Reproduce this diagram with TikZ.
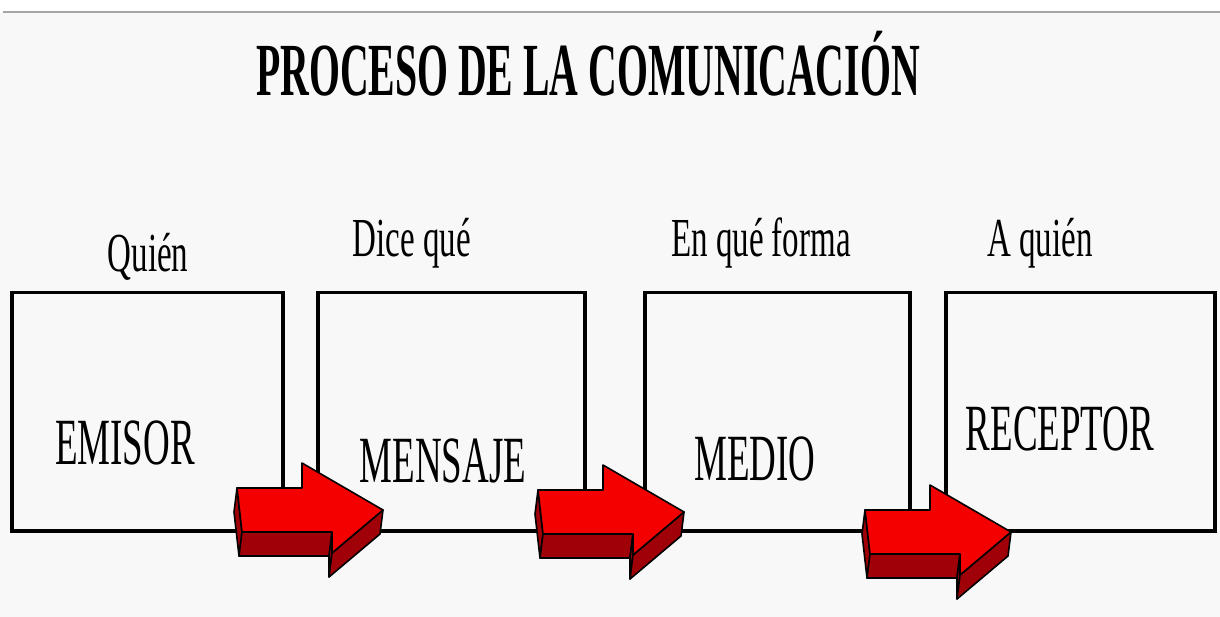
\documentclass[tikz,border=0pt]{standalone}
\usepackage{fontspec}
\setmainfont{Liberation Serif}[FakeStretch=0.6]
\newfontfamily\titlefamily{Liberation Serif}[FakeStretch=0.53]
\newfontfamily\boxfamily{Liberation Serif}[FakeStretch=0.56]
\definecolor{bgc}{HTML}{F8F8F8}
\definecolor{arrfront}{HTML}{F50000}
\definecolor{arrside}{HTML}{A00008}
\tikzset{
  box/.style={draw=black, line width=3.5pt, minimum width=#1, minimum height=238pt, inner sep=0pt, anchor=north west},
  lbl/.style={anchor=base, inner sep=0pt, font=\fontsize{55}{60}\selectfont},
  boxtxt/.style={anchor=base, inner sep=0pt, font=\boxfamily\fontsize{66}{70}\selectfont},
  titletxt/.style={anchor=base, inner sep=0pt, font=\titlefamily\fontsize{75}{80}\selectfont\bfseries},
  afront/.style={fill=arrfront, draw=black, line width=1.6pt, line join=round},
  aside/.style={fill=arrside, draw=black, line width=1.6pt, line join=round},
}
\newcommand\drawblockarrow{%
  % side faces (extrusion)
  \filldraw[aside] (237,488) -- (234,512) -- (239,556) -- (242,532) -- cycle;
  \filldraw[aside] (242,532) -- (239,556) -- (329,556) -- (332,532) -- cycle;
  \filldraw[aside] (332,532) -- (329,556) -- (329,577) -- (332,553) -- cycle;
  \filldraw[aside] (332,553) -- (329,577) -- (380,534) -- (383,510) -- cycle;
  % front face
  \filldraw[afront] (237,488) -- (302,488) -- (302,463) -- (383,510) -- (332,553) -- (332,532) -- (242,532) -- cycle;
}
\begin{document}
\begin{tikzpicture}[x=1pt,y=-1pt]
  \useasboundingbox (0,0) rectangle (1220,617);
  \fill[white] (0,0) rectangle (1220,617);
  \fill[bgc] (0,12) rectangle (1220,617);
  \draw[gray!70, line width=1.2pt] (3,12) -- (1220,12);

  \node[titletxt] (title) at (588,96) {PROCESO DE LA COMUNICACIÓN};

  \node[box=271pt] (b1) at (10,291) {};
  \node[box=267pt] (b2) at (316,291) {};
  \node[box=265pt] (b3) at (643,291) {};
  \node[box=269pt] (b4) at (944,291) {};

  \node[lbl] (l1) at (148,272) {Quién};
  \node[lbl] (l2) at (412,257) {Dice qué};
  \node[lbl] (l3) at (761,257) {En qué forma};
  \node[lbl] (l4) at (1040,257) {A quién};

  \node[boxtxt] (t1) at (125,464) {EMISOR};
  \node[boxtxt] (t2) at (443,482) {MENSAJE};
  \node[boxtxt] (t3) at (755,480) {MEDIO};
  \node[boxtxt] (t4) at (1060,450) {RECEPTOR};

  \begin{scope}\drawblockarrow\end{scope}
  \begin{scope}[shift={(301,2)}]\drawblockarrow\end{scope}
  \begin{scope}[shift={(628,22)}]\drawblockarrow\end{scope}
\end{tikzpicture}
\end{document}
